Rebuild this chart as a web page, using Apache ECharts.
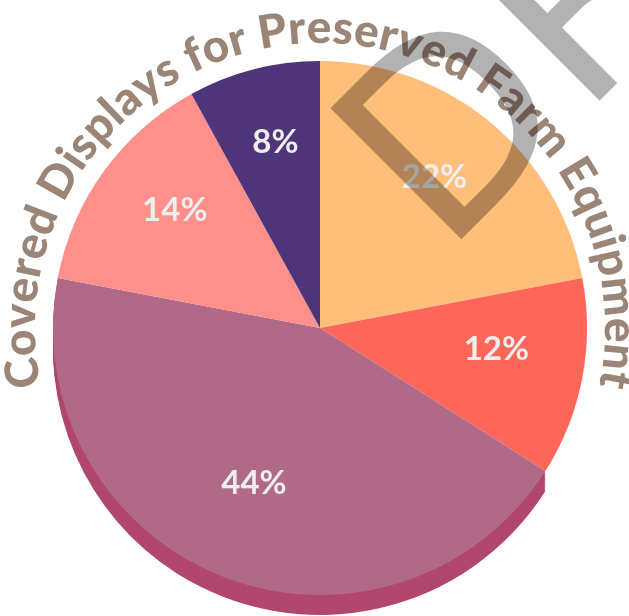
<!DOCTYPE html>
<html>
<head>
<meta charset="utf-8">
<script src="https://cdn.jsdelivr.net/npm/echarts@6/dist/echarts.min.js"></script>
<style>
  html, body { margin: 0; padding: 0; background: #fff; }
  #chart { width: 629px; height: 616px; }
</style>
</head>
<body>
<div id="chart"></div>
<script>
// data
var categories = ['Category A', 'Category B', 'Category C', 'Category D', 'Category E'];
var shares = [22, 12, 44, 14, 8];
var titleText = 'Covered Displays for Preserved Farm Equipment';
var watermarkText = 'DRAFT';

// style
var palette = ['#ffbe7a', '#ff665a', '#b06a87', '#ff8f8a', '#4e3479'];
var sideColor = '#b1466f';
var cx = 320, cy = 328, R = 267;
var titleSize = 46;
var titleFont = '900 ' + titleSize + 'px Lato';

var chart = echarts.init(document.getElementById('chart'));

var biggest = Math.max.apply(null, shares);
var pieData = categories.map(function (name, i) {
  return { name: name, value: shares[i] };
});

// side wall of the pie (only the front slice shows it)
var wallSeries = [];
for (var dy = 20; dy > 0; dy -= 2) {
  wallSeries.push({
    type: 'pie',
    silent: true,
    clockwise: true,
    startAngle: 90,
    center: [cx, cy + dy],
    radius: [0, R],
    label: { show: false },
    labelLine: { show: false },
    z: 1,
    data: categories.map(function (name, i) {
      return {
        name: name,
        value: shares[i],
        itemStyle: { color: shares[i] === biggest ? sideColor : 'rgba(0,0,0,0)' }
      };
    })
  });
}

// curved title along the rim
var ctx = document.createElement('canvas').getContext('2d');
ctx.font = titleFont;
var chars = titleText.split('');
var widths = chars.map(function (ch) { return ctx.measureText(ch).width; });
var total = widths.reduce(function (a, b) { return a + b; }, 0);
var rBase = 282;
var rMid = rBase + 0.387 * titleSize;
var titleEls = [];
var run = 0;
chars.forEach(function (ch, i) {
  var a = run + widths[i] / 2 - total / 2;
  run += widths[i];
  if (ch === ' ') return;
  var th = Math.PI / 2 - a / rBase;
  titleEls.push({
    type: 'text',
    x: cx + rMid * Math.cos(th),
    y: cy - rMid * Math.sin(th),
    rotation: th - Math.PI / 2,
    z: 50,
    silent: true,
    style: {
      text: ch,
      font: titleFont,
      fill: '#9b8577',
      textAlign: 'center',
      textVerticalAlign: 'middle'
    }
  });
});

titleEls.push({
  type: 'text',
  x: 397,
  y: 210,
  rotation: Math.PI / 4,
  z: 100,
  silent: true,
  style: {
    text: watermarkText,
    font: '254px "DejaVu Sans"',
    fill: 'rgba(0,0,0,0.3)',
    textAlign: 'left',
    textVerticalAlign: 'middle'
  }
});

chart.setOption({
  backgroundColor: '#fff',
  animation: false,
  graphic: { elements: titleEls },
  series: wallSeries.concat([
    {
      type: 'pie',
      clockwise: true,
      startAngle: 90,
      center: [cx, cy],
      radius: [0, R],
      z: 2,
      label: { show: false },
      labelLine: { show: false },
      itemStyle: {
        color: function (p) { return palette[p.dataIndex]; },
        borderWidth: 0
      },
      data: pieData
    },
    {
      // label ring
      type: 'pie',
      silent: true,
      clockwise: true,
      startAngle: 90,
      center: [cx, cy - 12],
      radius: [86, R],
      z: 3,
      itemStyle: { color: 'rgba(0,0,0,0)' },
      label: {
        show: true,
        position: 'inside',
        formatter: '{d}%',
        color: '#eeeeee',
        fontFamily: 'Lato',
        fontWeight: 'bold',
        fontSize: 33
      },
      labelLine: { show: false },
      percentPrecision: 0,
      data: pieData
    }
  ])
});
</script>
</body>
</html>
